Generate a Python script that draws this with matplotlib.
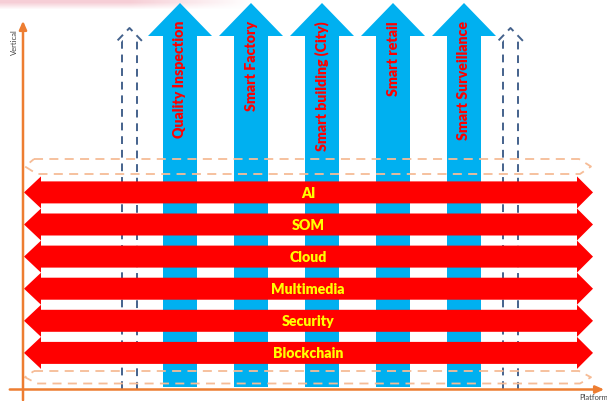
import numpy as np
import matplotlib
matplotlib.use("Agg")
import matplotlib.pyplot as plt
from matplotlib.patches import Polygon

# ---- content ----
verticals = ["Quality Inspection", "Smart Factory", "Smart building (City)", "Smart retail", "Smart Surveillance"]
platforms = ["AI", "SOM", "Cloud", "Multimedia", "Security", "Blockchain"]
axis_labels = ["Vertical", "Platform"]

# ---- layout (pixel space) ----
W, H = 607, 402
BLUE_X0, BLUE_STEP = 180, 71
BLUE_HALF, HEAD_HALF = 17, 32
BLUE_TIP, BLUE_BASE, BLUE_BOTTOM = 4, 37, 388
RED_Y0, RED_STEP = 193.4, 32.1
RED_HALF, RED_HEAD = 11, 16
RED_L_TIP, RED_L_BASE, RED_R_BASE, RED_R_TIP = 24, 41, 577, 593
DASH_X = [129.5, 510.5]

BLUE = "#00b0f0"
RED = "#ff0000"
YELLOW = "#ffff00"
ORANGE = "#ed7d31"
LORANGE = "#f6bc96"
DBLUE = "#44628c"
FONT = ["Lato", "DejaVu Sans"]

fig = plt.figure(figsize=(W / 100, H / 100), dpi=100)
ax = fig.add_axes([0, 0, 1, 1])
ax.set_xlim(0, W)
ax.set_ylim(H, 0)
ax.axis("off")

# pink fade at top
xx, yy = np.meshgrid(np.arange(W), np.arange(12))
alpha = np.clip((250 - xx) / 120, 0, 1) * np.clip((10 - yy) / 7, 0, 1) * 0.5
img = np.zeros((12, W, 4))
img[..., 0] = 0.93
img[..., 1] = 0.62
img[..., 2] = 0.68
img[..., 3] = alpha
ax.imshow(img, extent=(0, W, 12, 0), zorder=0, aspect="auto")

# blue vertical arrows
for i, lab in enumerate(verticals):
    cx = BLUE_X0 + i * BLUE_STEP
    pts = [(cx - BLUE_HALF, BLUE_BOTTOM), (cx - BLUE_HALF, BLUE_BASE), (cx - HEAD_HALF, BLUE_BASE),
           (cx, BLUE_TIP), (cx + HEAD_HALF, BLUE_BASE), (cx + BLUE_HALF, BLUE_BASE),
           (cx + BLUE_HALF, BLUE_BOTTOM)]
    ax.add_patch(Polygon(pts, closed=True, fc=BLUE, ec="none", zorder=2))
    ax.text(cx, 21, lab, rotation=90, ha="center", va="top", color=RED,
            fontsize=10.2, fontweight="heavy", family=FONT, zorder=6)

# dashed outline arrows
for cx in DASH_X:
    pts = [(cx - 7.5, 390), (cx - 7.5, 42), (cx - 12.5, 42), (cx, 29),
           (cx + 12.5, 42), (cx + 7.5, 42), (cx + 7.5, 390)]
    xs, ys = zip(*pts)
    ax.plot(xs, ys, color=DBLUE, lw=1.4, ls=(0, (4, 3)), zorder=3)

# orange dashed platform outlines (top and bottom)
for (t, b) in [(160, 175), (372, 384.5)]:
    m = (t + b) / 2
    pts = [(34, t), (579, t), (591, m), (580, b), (37, b), (25, m), (34, t)]
    xs, ys = zip(*pts)
    ax.plot(xs, ys, color=LORANGE, lw=1.3, ls=(0, (5, 3.5)), zorder=4)

# red horizontal double arrows
for j, lab in enumerate(platforms):
    yc = RED_Y0 + j * RED_STEP
    pts = [(RED_L_TIP, yc), (RED_L_BASE, yc - RED_HEAD), (RED_L_BASE, yc - RED_HALF),
           (RED_R_BASE, yc - RED_HALF), (RED_R_BASE, yc - RED_HEAD), (RED_R_TIP, yc),
           (RED_R_BASE, yc + RED_HEAD), (RED_R_BASE, yc + RED_HALF),
           (RED_L_BASE, yc + RED_HALF), (RED_L_BASE, yc + RED_HEAD)]
    ax.add_patch(Polygon(pts, closed=True, fc=RED, ec="none", zorder=5))
    ax.text(308, yc, lab, ha="center", va="center", color=YELLOW,
            fontsize=10.2, fontweight="heavy", family=FONT, zorder=6)

# orange axes
ax.annotate("", xy=(23, 19), xytext=(23, H + 2),
            arrowprops=dict(arrowstyle="-|>,head_length=0.5,head_width=0.22", color=ORANGE, lw=1.8),
            zorder=7)
ax.annotate("", xy=(607, 390.5), xytext=(7, 390.5),
            arrowprops=dict(arrowstyle="-|>,head_length=0.5,head_width=0.22", color=ORANGE, lw=1.8),
            zorder=7)

ax.text(14, 42, axis_labels[0], rotation=90, ha="center", va="center", fontsize=5.5,
        color="#404040", family=FONT)
ax.text(579, 398, axis_labels[1], ha="left", va="center", fontsize=5.5,
        color="#404040", family=FONT, clip_on=False)

fig.savefig("out.png", dpi=100)
